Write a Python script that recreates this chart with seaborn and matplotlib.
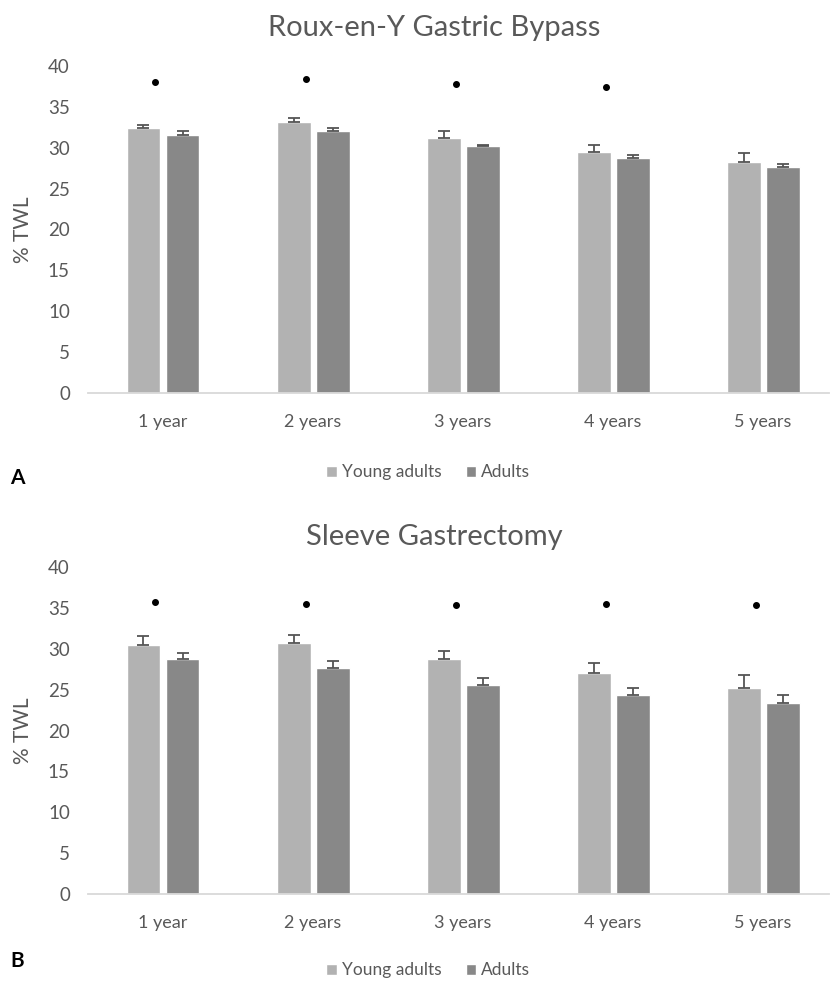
import numpy as np
import pandas as pd
import seaborn as sns
import matplotlib.pyplot as plt

years = ['1 year', '2 years', '3 years', '4 years', '5 years']
groups = ['Young adults', 'Adults']

rygb_young = [32.4, 33.1, 31.2, 29.5, 28.3]
rygb_young_err = [0.4, 0.5, 0.8, 0.8, 1.0]
rygb_adult = [31.6, 32.1, 30.2, 28.7, 27.7]
rygb_adult_err = [0.4, 0.3, 0.1, 0.4, 0.3]
rygb_star = [38.0, 38.4, 37.8, 37.4, np.nan]

sg_young = [30.5, 30.7, 28.7, 27.0, 25.2]
sg_young_err = [1.0, 1.0, 1.0, 1.2, 1.6]
sg_adult = [28.7, 27.6, 25.6, 24.4, 23.4]
sg_adult_err = [0.8, 0.9, 0.8, 0.8, 0.9]
sg_star = [35.7, 35.5, 35.4, 35.5, 35.3]

LIGHT = '#b2b2b2'
DARK = '#888888'
TXT = '#595959'

sns.set_style('white')
plt.rcParams['font.family'] = ['Lato', 'DejaVu Sans']


def make_df(young, adult):
    return pd.DataFrame({
        'year': years * 2,
        'group': [groups[0]] * 5 + [groups[1]] * 5,
        'twl': list(young) + list(adult),
    })


def draw_panel(ax, title, young, young_err, adult, adult_err, star, letter, legend_y, title_y, letter_y):
    df = make_df(young, adult)
    sns.barplot(data=df, x='year', y='twl', hue='group', order=years, hue_order=groups,
                palette=[LIGHT, DARK], width=0.52, gap=0.13, errorbar=None,
                saturation=1, ax=ax)
    # upward error bars only, like the original
    for cont, err in zip(ax.containers, [young_err, adult_err]):
        xs = [b.get_x() + b.get_width() / 2 for b in cont]
        hs = [b.get_height() for b in cont]
        ax.errorbar(xs, hs, yerr=[np.zeros(len(err)), err], fmt='none',
                    ecolor='#555555', elinewidth=1.3, capsize=4.5, capthick=1.3)
    ax.scatter(np.arange(len(years)) - 0.05, star, s=16, color='black', zorder=5)

    ax.set_ylim(0, 40)
    ax.set_xlim(-0.5, 4.44)
    ax.set_yticks(range(0, 41, 5))
    ax.set_xlabel('')
    ax.set_ylabel('% TWL', color=TXT, fontsize=15)
    ax.yaxis.set_label_coords(-0.074, 0.5)
    ax.tick_params(axis='y', length=0, pad=13, labelsize=13.5, labelcolor=TXT)
    ax.tick_params(axis='x', length=0, pad=15, labelsize=13, labelcolor=TXT)
    for s in ['top', 'right', 'left']:
        ax.spines[s].set_visible(False)
    ax.spines['bottom'].set_color('#d9d9d9')
    ax.spines['bottom'].set_linewidth(1.3)

    handles, labels = ax.get_legend_handles_labels()
    ax.get_legend().remove()
    fig.legend(handles, labels, loc='center', bbox_to_anchor=(0.516, legend_y), ncol=2,
               frameon=False, fontsize=12.5, labelcolor=TXT, handlelength=0.6,
               handleheight=0.6, handletextpad=0.3, columnspacing=1.4)
    fig.text(0.523, title_y, title, ha='center', va='center', fontsize=21, color=TXT)
    fig.text(0.012, letter_y, letter, ha='left', va='center', fontsize=15,
             fontweight='bold', color='black')


fig = plt.figure(figsize=(8.3, 9.82), dpi=100)
ax1 = fig.add_axes([0.106, 0.5998, 0.893, 0.333])
ax2 = fig.add_axes([0.106, 0.0896, 0.893, 0.333])

draw_panel(ax1, 'Roux-en-Y Gastric Bypass', rygb_young, rygb_young_err,
           rygb_adult, rygb_adult_err, rygb_star, 'A', 0.519, 0.971, 0.513)
draw_panel(ax2, 'Sleeve Gastrectomy', sg_young, sg_young_err,
           sg_adult, sg_adult_err, sg_star, 'B', 0.012, 0.453, 0.021)

plt.savefig('out.png', dpi=100)
